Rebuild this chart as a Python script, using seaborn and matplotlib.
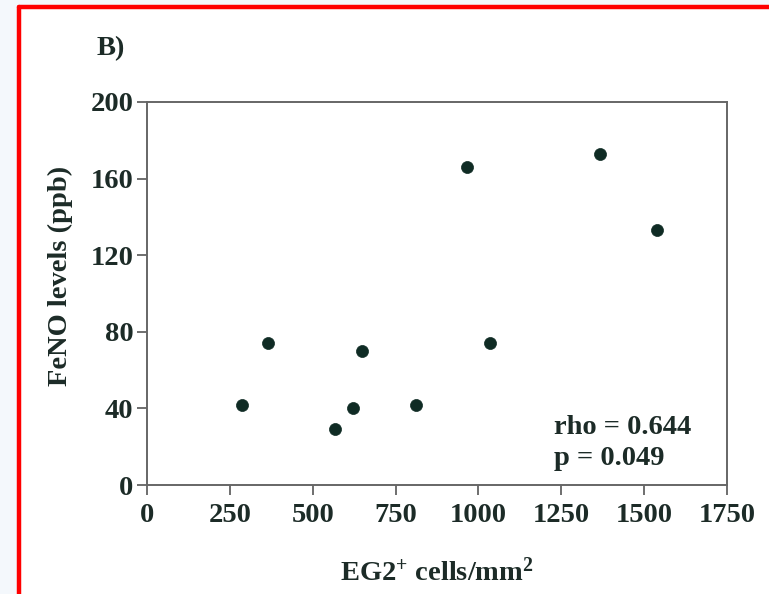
import numpy as np
import pandas as pd
import matplotlib
matplotlib.use("Agg")
import matplotlib.pyplot as plt
import seaborn as sns
from matplotlib.patches import Rectangle

# values
eg2_cells = [287, 365, 567, 622, 649, 812, 966, 1035, 1367, 1539]
feno_ppb = [42, 74, 29, 40, 70, 42, 166, 74, 173, 133]
x_ticks = [0, 250, 500, 750, 1000, 1250, 1500, 1750]
y_ticks = [0, 40, 80, 120, 160, 200]

df = pd.DataFrame({"EG2": eg2_cells, "FeNO": feno_ppb})

sns.set_theme(style="white")
plt.rcParams['font.family'] = ['Liberation Serif', 'DejaVu Serif']
plt.rcParams['font.weight'] = 'bold'
plt.rcParams['mathtext.fontset'] = 'custom'
plt.rcParams['mathtext.rm'] = 'Liberation Serif:bold'
plt.rcParams['mathtext.it'] = 'Liberation Serif:bold'
plt.rcParams['mathtext.bf'] = 'Liberation Serif:bold'

ink = "#1c2b27"
fs = 20.5

fig = plt.figure(figsize=(7.69, 5.94), dpi=100)
fig.patch.set_facecolor("white")
# light frame outside and red border on top/left
fig.patches.append(Rectangle((0, 0), 0.0247, 1, transform=fig.transFigure,
                             facecolor="#f4f8fc", edgecolor="none", zorder=0))
fig.patches.append(Rectangle((0, 0.989), 1, 0.011, transform=fig.transFigure,
                             facecolor="#f4f8fc", edgecolor="none", zorder=0))
fig.add_artist(plt.Line2D([0.0247, 0.0247], [0, 0.989], transform=fig.transFigure,
                          color="#ff0000", lw=3.2))
fig.add_artist(plt.Line2D([0.0247, 1], [0.989, 0.989], transform=fig.transFigure,
                          color="#ff0000", lw=3.2))

ax = fig.add_axes([0.1912, 0.1835, 0.7542, 0.6448])
sns.scatterplot(x="EG2", y="FeNO", data=df, ax=ax, color="#0f2b24",
                s=75, edgecolor="#0f2b24", linewidth=0.5, zorder=3)

ax.set_xlim(0, 1750)
ax.set_ylim(0, 200)
ax.set_xticks(x_ticks)
ax.set_yticks(y_ticks)
ax.tick_params(axis="both", direction="out", length=7, width=1.2, color="#555555",
               labelsize=fs, labelcolor=ink, pad=3)
ax.tick_params(axis="x", pad=6)
ax.tick_params(left=True, bottom=True)
for lab in ax.get_xticklabels() + ax.get_yticklabels():
    lab.set_fontweight("bold")
for sp in ax.spines.values():
    sp.set_color("#666666")
    sp.set_linewidth(1.4)

ax.set_xlabel("EG2$^{+}$ cells/mm$^{2}$", fontsize=fs, fontweight="bold", color=ink)
ax.set_ylabel("FeNO levels (ppb)", fontsize=fs, fontweight="bold", color=ink)
ax.xaxis.set_label_coords(0.5, -0.19)
ax.yaxis.set_label_coords(-0.128, 0.546)

ax.text(0.702, 0.11, "rho = 0.644\np = 0.049", transform=ax.transAxes,
        fontsize=fs, fontweight="bold", color=ink, ha="left", va="center",
        linespacing=1.3)
fig.text(0.126, 0.918, "B)", fontsize=fs, fontweight="bold", color=ink,
         ha="left", va="center")

fig.savefig("out.png", dpi=100)
